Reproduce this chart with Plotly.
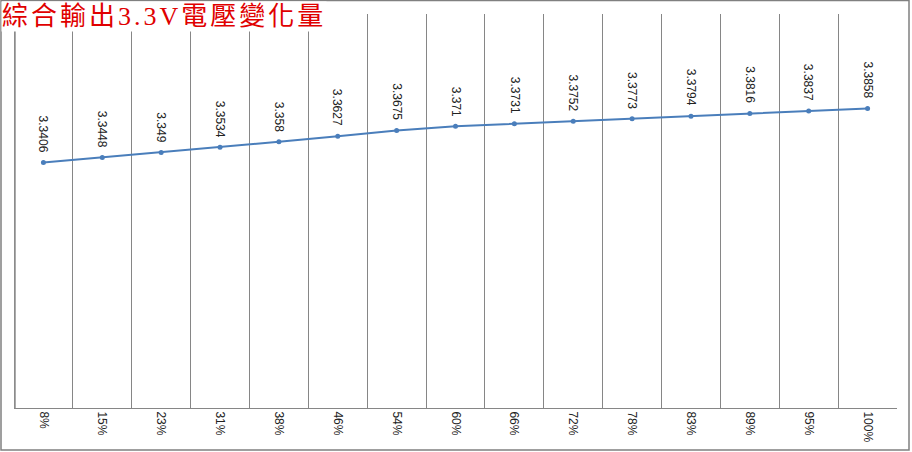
import plotly.graph_objects as graphObj

categories = ['8%', '15%', '23%', '31%', '38%', '46%', '54%', '60%', '66%',
              '72%', '78%', '83%', '89%', '95%', '100%']
voltages = [3.3406, 3.3448, 3.349, 3.3534, 3.358, 3.3627, 3.3675, 3.371,
            3.3731, 3.3752, 3.3773, 3.3794, 3.3816, 3.3837, 3.3858]
label_texts = ['3.3406', '3.3448', '3.349', '3.3534', '3.358', '3.3627',
               '3.3675', '3.371', '3.3731', '3.3752', '3.3773', '3.3794',
               '3.3816', '3.3837', '3.3858']
chart_title = '綜合輸出3.3V電壓變化量'

W, H = 912, 452
L, R, T, B = 14, 15, 14, 44
pw, ph = W - L - R, H - T - B

fig = graphObj.Figure()
fig.add_trace(graphObj.Scatter(
    x=categories, y=voltages, mode='lines+markers',
    line=dict(color='#4a7ebb', width=2),
    marker=dict(color='#4a7ebb', size=5),
    hoverinfo='x+y', showlegend=False,
))

# rotated data labels above each point
annotations = []
for c, v, t in zip(categories, voltages, label_texts):
    annotations.append(dict(
        x=c, y=v, text=t, showarrow=False, textangle=90,
        yanchor='bottom', yshift=8,
        font=dict(family='Liberation Sans, Arial', size=12, color='#222222'),
    ))

# title with white box over the grid
annotations.append(dict(
    xref='paper', yref='paper', x=(1 - L) / pw, y=(H - B - 1) / ph,
    xanchor='left', yanchor='top',
    text='<span style="letter-spacing:3px">' + chart_title + '</span>',
    showarrow=False, bgcolor='white', borderpad=0,
    font=dict(family='Liberation Serif, Noto Sans CJK TC', size=26,
              color='#e00000'),
))

fig.update_layout(
    width=W, height=H,
    margin=dict(l=L, r=R, t=T, b=B, pad=0),
    paper_bgcolor='white', plot_bgcolor='white',
    annotations=annotations,
    shapes=[
        # outer chart frame
        dict(type='rect', xref='paper', yref='paper', layer='above',
             x0=(1 - L) / pw, x1=(909 - L) / pw,
             y0=(H - B - 450) / ph, y1=(H - B - 0.5) / ph,
             line=dict(color='#808080', width=1.5)),
        # left edge of plot area
        dict(type='line', xref='paper', yref='paper', layer='above',
             x0=0.001, x1=0.001, y0=0, y1=1,
             line=dict(color='#7a7a7a', width=1.5)),
    ],
)
fig.update_xaxes(
    type='category', range=[-0.5, 14.5], tickson='boundaries',
    showgrid=True, gridcolor='#868686', gridwidth=1,
    showline=True, linecolor='#868686', linewidth=1,
    ticks='', tickangle=90, automargin=False,
    tickfont=dict(family='Liberation Sans, Arial', size=12, color='#222222'),
)
fig.update_yaxes(
    range=[3.135, 3.465], showgrid=False, showticklabels=False,
    zeroline=False, showline=False, automargin=False,
)

fig.write_html("out.html", config={'displayModeBar': False},
               post_script="document.body.style.margin='0';")
